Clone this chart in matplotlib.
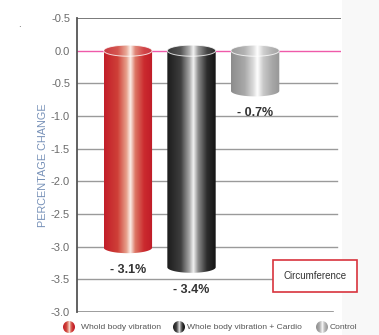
import numpy as np
import matplotlib
matplotlib.use("Agg")
import matplotlib.pyplot as plt
from matplotlib.colors import LinearSegmentedColormap
from matplotlib.path import Path
from matplotlib.patches import PathPatch, Circle, Rectangle

plt.rcParams['font.family'] = ['Liberation Sans', 'DejaVu Sans']

# -----------------------------
# Data
# -----------------------------
groups = ['Whold body vibration', 'Whole body vibration + Cardio', 'Control']
changes = [-3.1, -3.4, -0.7]
value_labels = ['- 3.1%', '- 3.4%', '- 0.7%']
tick_values = [0.5, 0.0, -0.5, -1.0, -1.5, -2.0, -2.5, -3.0, -3.5, -4.0]
tick_labels = ['-0.5', '0.0', '-0.5', '-1.0', '-1.5', '-2.0', '-2.5', '-3.0', '-3.5', '-3.0']
measure = 'Circumference'

# cylinder shading: dark edges, bright highlight a bit right of centre
stops = [
    [(0.0, '#c21e29'), (0.28, '#cf4038'), (0.46, '#e7a08c'), (0.54, '#fbeee8'),
     (0.64, '#dc7564'), (0.82, '#cb2b2f'), (1.0, '#bf1b27')],
    [(0.0, '#1c1c1c'), (0.28, '#3e3e3e'), (0.46, '#a8a8a8'), (0.54, '#f2f2f2'),
     (0.64, '#8a8a8a'), (0.82, '#2c2c2c'), (1.0, '#141414')],
    [(0.0, '#8c8c8c'), (0.28, '#a9a9a9'), (0.46, '#dcdcdc'), (0.54, '#ffffff'),
     (0.66, '#c9c9c9'), (0.85, '#a6a6a6'), (1.0, '#979797')],
]
cmaps = [LinearSegmentedColormap.from_list('cyl%d' % i, s) for i, s in enumerate(stops)]


def gradient_image(cmap, lighten=0.0, n=256):
    rgba = cmap(np.linspace(0, 1, n))[np.newaxis, :, :]
    rgba[..., :3] = rgba[..., :3] * (1 - lighten) + lighten
    return rgba


W, H = 379, 335
fig = plt.figure(figsize=(W / 100, H / 100), dpi=100)
fig.patch.set_facecolor('white')

# pale strip down the right-hand side
strip = fig.add_axes([342 / W, 0, 1 - 342 / W, 1], zorder=-5)
strip.set_facecolor('#f8f8f8')
strip.set_xticks([])
strip.set_yticks([])
for s in strip.spines.values():
    s.set_visible(False)

ax = fig.add_axes([77 / W, (H - 312) / H, 264 / W, 294 / H])
ax.set_facecolor('none')
ax.set_ylim(-4.0, 0.5)
ax.set_xlim(-0.80, 3.35)

for s in ['top', 'right', 'bottom']:
    ax.spines[s].set_visible(False)
ax.spines['left'].set_color('#555555')
ax.spines['left'].set_linewidth(1.3)

ax.set_xticks([])
ax.set_yticks(tick_values)
ax.set_yticklabels(tick_labels, fontsize=8, color='#6b6b6b')
ax.tick_params(axis='y', length=0, pad=5)
ax.set_ylabel('PERCENTAGE CHANGE', fontsize=7.8, color='#7791b8', labelpad=2)

# horizontal guide lines
for v in tick_values:
    if v == 0.0:
        ax.axhline(v, color='#ef5aa9', lw=1.0, zorder=1)
    elif v == 0.5:
        ax.axhline(v, color='#6e6e6e', lw=1.3, zorder=1)
    elif v == -4.0:
        ax.axhline(v, xmax=0.97, color='#8c8c8c', lw=1.2, zorder=1)
    else:
        ax.axhline(v, xmax=0.985, color='#9a9a9a', lw=1.0, zorder=1)

# cylinders
bw = 0.76
eh = 0.17
t_low = np.linspace(np.pi, 2 * np.pi, 60)
t_full = np.linspace(0, 2 * np.pi, 100)
for i, (val, cmap, lab) in enumerate(zip(changes, cmaps, value_labels)):
    x0, x1 = i - bw / 2, i + bw / 2
    ybot = val + eh / 2
    # body: rectangle plus lower half-ellipse
    xs = np.concatenate([[x0], i + bw / 2 * np.cos(t_low), [x1]])
    ys = np.concatenate([[0.0], ybot + eh / 2 * np.sin(t_low), [0.0]])
    body = PathPatch(Path(np.column_stack([xs, ys]), closed=False), transform=ax.transData,
                     facecolor='none', edgecolor='none')
    ax.add_patch(body)
    im = ax.imshow(gradient_image(cmap), extent=[x0, x1, val - 0.01, 0.0],
                   aspect='auto', interpolation='bilinear', zorder=2)
    im.set_clip_path(body)

    # top face
    tx = i + bw / 2 * np.cos(t_full)
    ty = eh / 2 * np.sin(t_full)
    top = PathPatch(Path(np.column_stack([tx, ty])), transform=ax.transData,
                    facecolor='none', edgecolor=(1, 1, 1, 0.8), lw=0.7, zorder=4)
    ax.add_patch(top)
    im2 = ax.imshow(gradient_image(cmap, lighten=0.12), extent=[x0, x1, -eh / 2, eh / 2],
                    aspect='auto', interpolation='bilinear', zorder=3)
    im2.set_clip_path(top)

    ax.text(i, val - 0.26, lab, ha='center', va='center', fontsize=9,
            fontweight='bold', color='#333333')

# overlay in pixel units for legend and caption box
ov = fig.add_axes([0, 0, 1, 1], zorder=5)
ov.set_xlim(0, W)
ov.set_ylim(H, 0)
ov.axis('off')

icon_x = [69, 179, 322]
text_x = [81, 187, 330]
r = 6
for cx, tx_, cmap, name in zip(icon_x, text_x, cmaps, groups):
    circ = Circle((cx, 327), r, facecolor='none', edgecolor='none')
    ov.add_patch(circ)
    im = ov.imshow(gradient_image(cmap), extent=[cx - r, cx + r, 327 + r, 327 - r],
                   aspect='auto', interpolation='bilinear', zorder=3)
    im.set_clip_path(circ)
    ov.text(tx_, 327.5, name, ha='left', va='center', fontsize=6.1, color='#555555')

ov.add_patch(Rectangle((273, 260), 84, 32, facecolor='white', edgecolor='#d8343d', lw=1.2, zorder=3))
ov.text(315, 276, measure, ha='center', va='center', fontsize=7, color='#333333', zorder=4)
ov.text(19, 24, '.', ha='center', va='center', fontsize=7, color='#555555')

fig.savefig('out.png', dpi=100)
